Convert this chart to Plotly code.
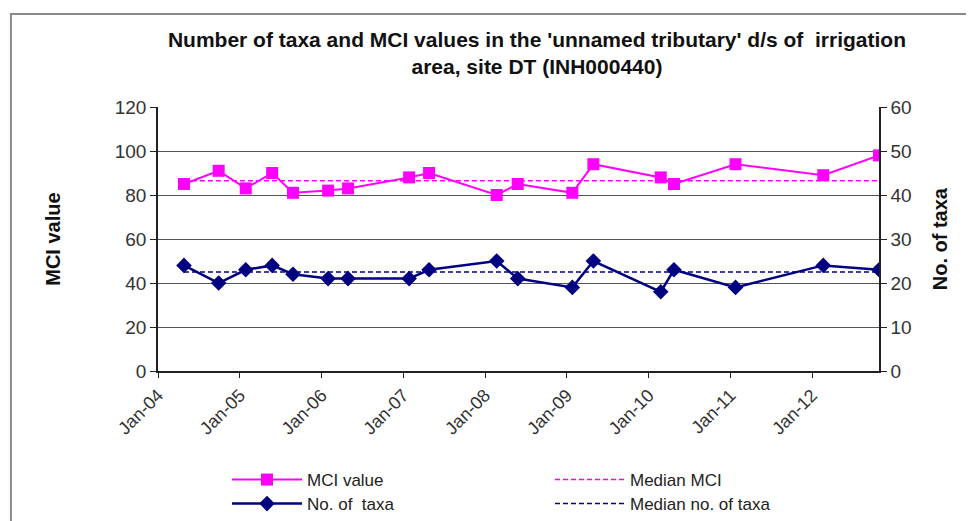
import numpy as np
import plotly.graph_objects as go

# sampling dates
sample_dates = [
    "2004-04-26", "2004-09-28", "2005-01-27", "2005-05-25", "2005-08-26",
    "2006-01-30", "2006-04-29", "2007-01-27", "2007-04-26", "2008-02-22",
    "2008-05-26", "2009-01-25", "2009-04-29", "2010-02-24", "2010-04-24",
    "2011-01-24", "2012-02-20", "2012-10-26",
]
mci_values = [85, 91, 83, 90, 81, 82, 83, 88, 90, 80, 85, 81, 94, 88, 85, 94, 89, 98]
no_of_taxa = [24, 20, 23, 24, 22, 21, 21, 21, 23, 25, 21, 19, 25, 18, 23, 19, 24, 23]

median_mci = np.median(mci_values)
median_taxa = np.median(no_of_taxa)

title_text = ("Number of taxa and MCI values in the 'unnamed tributary' d/s of  irrigation"
              "<br>area, site DT (INH000440)")

magenta = "#FF00FF"
navy = "#000080"
font_family = "Liberation Sans, Arial, sans-serif"

fig = go.Figure()

fig.add_trace(go.Scatter(
    x=sample_dates, y=mci_values, name="MCI value",
    mode="lines+markers",
    line=dict(color=magenta, width=2),
    marker=dict(symbol="square", size=12, color=magenta),
    legend="legend",
))
fig.add_trace(go.Scatter(
    x=sample_dates, y=[median_mci] * len(sample_dates), name="Median MCI",
    mode="lines",
    line=dict(color=magenta, width=1.5, dash="5px,3px"),
    legend="legend2",
))
fig.add_trace(go.Scatter(
    x=sample_dates, y=no_of_taxa, name="No. of  taxa",
    mode="lines+markers",
    line=dict(color=navy, width=2.5),
    marker=dict(symbol="diamond", size=12, color=navy),
    yaxis="y2",
    legend="legend3",
))
fig.add_trace(go.Scatter(
    x=sample_dates, y=[median_taxa] * len(sample_dates), name="Median no. of taxa",
    mode="lines",
    line=dict(color=navy, width=1.5, dash="5px,3px"),
    yaxis="y2",
    legend="legend4",
))

# one legend per entry so the 2x2 grid sits where the original has it
def legend_at(x, y):
    return dict(
        x=x, y=y, orientation="h", itemwidth=70,
        xanchor="left", yanchor="middle", bgcolor="rgba(0,0,0,0)",
        font=dict(family=font_family, size=17, color="#222"),
    )

# page body adds an 8px offset; figure shrunk by 8px so the page doesn't scroll
fig.update_layout(
    width=966, height=513,
    margin=dict(l=150, r=95, t=99, b=150, autoexpand=False),
    paper_bgcolor="white", plot_bgcolor="white",
    font=dict(family=font_family, color="#333"),
    showlegend=True,
    title=dict(
        text=title_text, x=0.5476, xref="container", xanchor="center",
        y=0.924, yref="container", yanchor="top",
        font=dict(family=font_family, size=21, color="#111", weight="bold"),
    ),
    xaxis=dict(
        type="date", range=["2004-01-01", "2012-10-26"],
        tick0="2004-01-01", dtick="M12", tickformat="%b-%y",
        tickangle=-45, ticks="outside", ticklen=5, tickcolor="#222",
        showline=True, linecolor="#222", linewidth=1.5,
        showgrid=False, zeroline=False,
        tickfont=dict(size=18, color="#333"),
    ),
    yaxis=dict(
        range=[0, 120], dtick=20, ticks="outside", ticklen=6, tickcolor="#222",
        showline=True, linecolor="#222", linewidth=1.5,
        showgrid=True, gridcolor="#555", gridwidth=1.2, zeroline=False,
        tickfont=dict(size=19, color="#333"),
    ),
    yaxis2=dict(
        range=[0, 60], dtick=10, overlaying="y", side="right",
        ticks="outside", ticklen=6, tickcolor="#222",
        showline=True, linecolor="#222", linewidth=1.5,
        showgrid=False, zeroline=False,
        tickfont=dict(size=19, color="#333"),
    ),
    legend=legend_at(0.0957, -0.413),
    legend2=legend_at(0.5437, -0.413),
    legend3=legend_at(0.0957, -0.504),
    legend4=legend_at(0.5437, -0.504),
)

# axis titles
fig.add_annotation(text="<b>MCI value</b>", xref="paper", yref="paper",
                   x=-0.146, y=0.5, xanchor="center", yanchor="middle",
                   textangle=-90, showarrow=False,
                   font=dict(size=20, color="#111"))
fig.add_annotation(text="<b>No. of taxa</b>", xref="paper", yref="paper",
                   x=1.085, y=0.5, xanchor="center", yanchor="middle",
                   textangle=-90, showarrow=False,
                   font=dict(size=20, color="#111"))

# chart area frame (left and top edges are visible in the picture)
fig.add_shape(type="path", xref="paper", yref="paper",
              path="M -0.204,-0.7 L -0.204,1.352 L 1.2,1.352",
              line=dict(color="#8a8a8a", width=2))

fig.write_html("out.html")
